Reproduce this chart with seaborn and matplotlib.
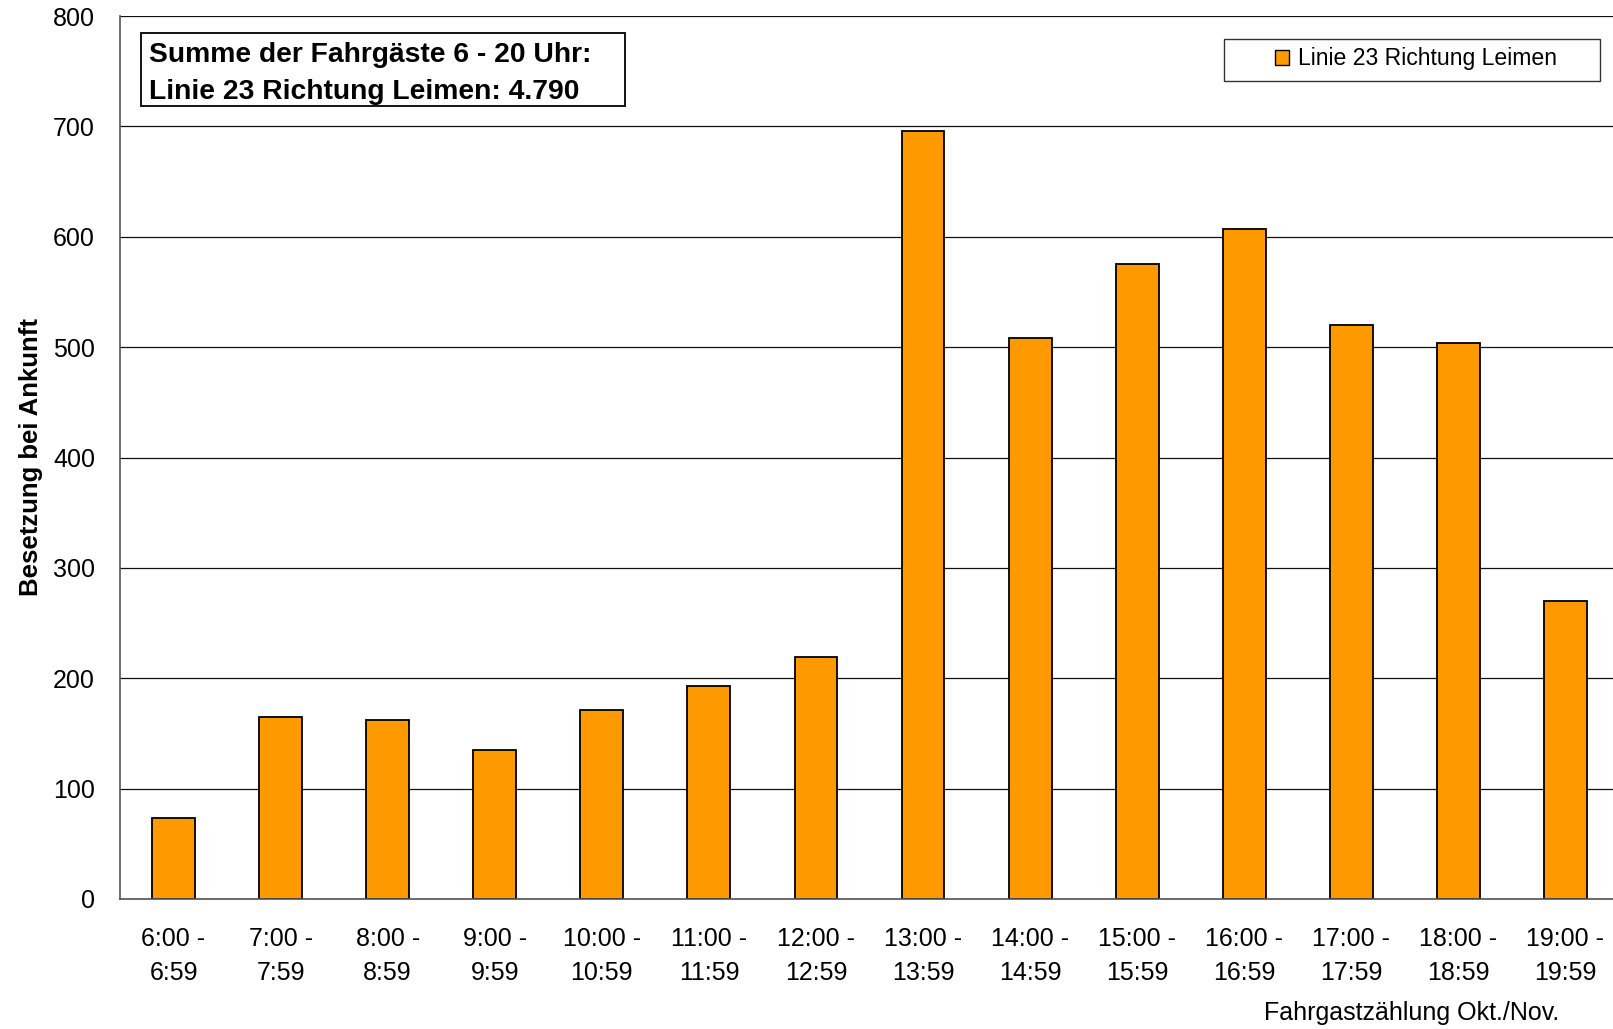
import seaborn as sns
import matplotlib.pyplot as plt
import pandas as pd

# Data
zeiten = ["6:00 -\n6:59", "7:00 -\n7:59", "8:00 -\n8:59", "9:00 -\n9:59",
          "10:00 -\n10:59", "11:00 -\n11:59", "12:00 -\n12:59", "13:00 -\n13:59",
          "14:00 -\n14:59", "15:00 -\n15:59", "16:00 -\n16:59", "17:00 -\n17:59",
          "18:00 -\n18:59", "19:00 -\n19:59"]
besetzung = [73, 165, 162, 135, 171, 193, 219, 696, 508, 575, 607, 520, 504, 270]
serie = "Linie 23 Richtung Leimen"
summe_text = "Summe der Fahrgäste 6 - 20 Uhr:\nLinie 23 Richtung Leimen: 4.790"
quelle = "Fahrgastzählung Okt./Nov."

df = pd.DataFrame({"Zeit": zeiten, "Besetzung": besetzung, "Linie": serie})

sns.set_style("white")
plt.rcParams['font.family'] = ['Liberation Sans', 'DejaVu Sans']
plt.rcParams['text.color'] = 'black'
plt.rcParams['axes.labelcolor'] = 'black'
plt.rcParams['xtick.labelcolor'] = 'black'
plt.rcParams['ytick.labelcolor'] = 'black'

W, H = 1613, 1029
fig = plt.figure(figsize=(W / 100, H / 100), dpi=100)
ax = fig.add_axes([120 / W, 1 - 899 / H, 1499 / W, 883 / H])

sns.barplot(data=df, x="Zeit", y="Besetzung", hue="Linie", palette=["#FF9900"],
            saturation=1, edgecolor="black", linewidth=1.3, width=0.4,
            dodge=False, ax=ax, legend=True)

ax.set_ylim(0, 800)
ax.set_xlim(-0.5, len(zeiten) - 0.5)
ax.set_yticks(range(0, 801, 100))
ax.yaxis.grid(True, color="#111111", lw=0.9)
ax.set_axisbelow(True)

for s in ["top", "right"]:
    ax.spines[s].set_visible(False)
for s in ["left", "bottom"]:
    ax.spines[s].set_color("#555555")
    ax.spines[s].set_linewidth(1.2)

# category boundaries as ticks, labels centred
ax.set_xticks([i - 0.5 for i in range(len(zeiten) + 1)], minor=True)
ax.tick_params(axis="x", which="minor", length=9, width=1.2, color="#555555",
               direction="out")
ax.tick_params(axis="x", which="major", length=0, pad=20, labelsize=18)
ax.tick_params(axis="y", length=6, width=1.2, color="#555555", direction="out",
               pad=12, labelsize=18)
for lbl in ax.get_xticklabels():
    lbl.set_linespacing(1.55)

ax.set_xlabel("")
ax.set_ylabel("Besetzung bei Ankunft", fontsize=18.5, fontweight="bold", labelpad=7)

# legend with its own box
ax.legend(loc="center", bbox_to_anchor=(1416 / W, 1 - 59 / H),
          bbox_transform=fig.transFigure, frameon=False, fontsize=16.6,
          handlelength=0.6, handleheight=0.6, handletextpad=0.4)
leg = ax.get_legend()
leg.legend_handles[0].set_edgecolor("black")
leg.legend_handles[0].set_linewidth(1.0)
leg.set_zorder(10)
ax.add_patch(plt.Rectangle((1224 / W, 1 - 81 / H), 376 / W, 42 / H,
                           transform=fig.transFigure, fill=True, clip_on=False,
                           fc="white", ec="#333333", lw=1.0, zorder=5))

# sum box
ax.add_patch(plt.Rectangle((141 / W, 1 - 106 / H), 484 / W, 73 / H,
                           transform=fig.transFigure, fill=True, clip_on=False,
                           fc="white", ec="black", lw=1.3, zorder=5))
fig.text(149 / W, 1 - 73.5 / H, summe_text, fontsize=20.3, fontweight="bold",
         va="center", ha="left", linespacing=1.55, zorder=10)

fig.text(1559 / W, 1 - 1013 / H, quelle, fontsize=18, ha="right", va="center")

plt.savefig("out.png", dpi=100)
